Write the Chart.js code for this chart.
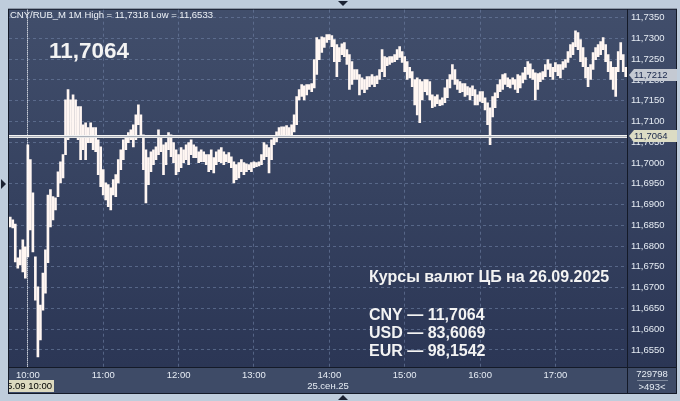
<!DOCTYPE html>
<html lang="ru">

<head>
    <meta charset="UTF-8">
    <title>CNY/RUB_M 1M</title>
    <style>
        html, body { margin: 0; padding: 0; background: #bfcddc; }
        #rateCanvas { display: block; }
    </style>
</head>

<body>
    <canvas id="rateCanvas" width="680" height="401"></canvas>

    <script src="https://cdn.jsdelivr.net/npm/chart.js@4.4.1/dist/chart.umd.min.js" charset="UTF-8"></script>
    <script>
        // bars are 2-minute ranges, time counted in minutes from 10:00
        const firstBar = -14;
        const barStep = 2;

        const highs = [
            11.6870, 11.6863, 11.6853, 11.6772, 11.6791, 11.6815, 11.6798, 11.7044, 11.7008, 11.6928,
            11.6774, 11.6702, 11.6658, 11.6735, 11.6791, 11.6923, 11.6936, 11.6919, 11.6916, 11.6979,
            11.7003, 11.7020, 11.7152, 11.7177, 11.7152, 11.7164, 11.7152, 11.7136, 11.7136, 11.7092,
            11.7097, 11.7085, 11.7097, 11.7085, 11.7085, 11.7056, 11.7039, 11.6984, 11.6952, 11.6948,
            11.6940, 11.6960, 11.6972, 11.7008, 11.7032, 11.7056, 11.7063, 11.7073, 11.7080, 11.7092,
            11.7116, 11.7140, 11.7116, 11.7068, 11.7032, 11.7013, 11.7027, 11.7032, 11.7039, 11.7080,
            11.7063, 11.7044, 11.7049, 11.7073, 11.7068, 11.7049, 11.7032, 11.7020, 11.7037, 11.7032,
            11.7044, 11.7049, 11.7056, 11.7044, 11.7039, 11.7027, 11.7032, 11.7027, 11.7020, 11.7020,
            11.7032, 11.7013, 11.7027, 11.7032, 11.7037, 11.7027, 11.7020, 11.7025, 11.7015, 11.7003,
            11.6996, 11.7001, 11.7008, 11.7001, 11.6998, 11.6996, 11.7001, 11.7003, 11.7001, 11.7003,
            11.7020, 11.7049, 11.7044, 11.7037, 11.7056, 11.7066, 11.7075, 11.7085, 11.7087, 11.7087,
            11.7090, 11.7085, 11.7092, 11.7116, 11.7160, 11.7177, 11.7189, 11.7186, 11.7189, 11.7189,
            11.7191, 11.7249, 11.7302, 11.7297, 11.7304, 11.7302, 11.7309, 11.7309, 11.7307, 11.7297,
            11.7285, 11.7278, 11.7287, 11.7290, 11.7273, 11.7261, 11.7244, 11.7225, 11.7225, 11.7213,
            11.7205, 11.7201, 11.7208, 11.7208, 11.7213, 11.7208, 11.7210, 11.7225, 11.7273, 11.7256,
            11.7254, 11.7256, 11.7256, 11.7261, 11.7273, 11.7280, 11.7268, 11.7256, 11.7244, 11.7230,
            11.7220, 11.7201, 11.7205, 11.7201, 11.7196, 11.7201, 11.7201, 11.7196, 11.7164, 11.7160,
            11.7164, 11.7152, 11.7157, 11.7181, 11.7201, 11.7213, 11.7237, 11.7225, 11.7201, 11.7196,
            11.7191, 11.7191, 11.7184, 11.7181, 11.7186, 11.7177, 11.7164, 11.7172, 11.7172, 11.7157,
            11.7145, 11.7133, 11.7160, 11.7169, 11.7189, 11.7201, 11.7213, 11.7215, 11.7205, 11.7201,
            11.7205, 11.7201, 11.7213, 11.7210, 11.7217, 11.7230, 11.7244, 11.7239, 11.7225, 11.7217,
            11.7215, 11.7217, 11.7220, 11.7237, 11.7249, 11.7239, 11.7230, 11.7242, 11.7237, 11.7237,
            11.7244, 11.7249, 11.7268, 11.7285, 11.7290, 11.7318, 11.7314, 11.7297, 11.7278, 11.7254,
            11.7230, 11.7237, 11.7266, 11.7278, 11.7285, 11.7292, 11.7302, 11.7285, 11.7261, 11.7244,
            11.7230, 11.7230, 11.7268, 11.7290, 11.7261, 11.7230
        ];

        const lows = [
            11.6846, 11.6844, 11.6762, 11.6747, 11.6755, 11.6738, 11.6723, 11.6774, 11.6839, 11.6786,
            11.6670, 11.6533, 11.6574, 11.6646, 11.6687, 11.6760, 11.6846, 11.6863, 11.6887, 11.6919,
            11.6952, 11.6964, 11.7020, 11.7056, 11.7063, 11.7063, 11.7068, 11.7056, 11.7008, 11.7032,
            11.7008, 11.7049, 11.7049, 11.7032, 11.7027, 11.6972, 11.6943, 11.6923, 11.6911, 11.6895,
            11.6887, 11.6923, 11.6919, 11.6952, 11.6984, 11.7008, 11.7032, 11.7049, 11.7056, 11.7039,
            11.7056, 11.7092, 11.7068, 11.6984, 11.6904, 11.6948, 11.6979, 11.6996, 11.7008, 11.7020,
            11.7027, 11.6972, 11.6996, 11.7032, 11.7015, 11.7001, 11.6972, 11.6979, 11.6989, 11.7001,
            11.7008, 11.6996, 11.7020, 11.7013, 11.7013, 11.7001, 11.7003, 11.7003, 11.6996, 11.6979,
            11.6984, 11.6976, 11.6996, 11.7003, 11.7001, 11.6996, 11.7003, 11.7001, 11.6989, 11.6952,
            11.6960, 11.6964, 11.6979, 11.6972, 11.6979, 11.6984, 11.6979, 11.6989, 11.6991, 11.6993,
            11.6996, 11.7008, 11.7015, 11.6976, 11.7008, 11.7044, 11.7051, 11.7063, 11.7061, 11.7068,
            11.7064, 11.7063, 11.7068, 11.7075, 11.7092, 11.7152, 11.7160, 11.7152, 11.7164, 11.7177,
            11.7172, 11.7181, 11.7213, 11.7249, 11.7266, 11.7278, 11.7290, 11.7297, 11.7280, 11.7244,
            11.7208, 11.7244, 11.7261, 11.7256, 11.7237, 11.7177, 11.7189, 11.7201, 11.7201, 11.7164,
            11.7177, 11.7169, 11.7177, 11.7184, 11.7189, 11.7184, 11.7191, 11.7201, 11.7220, 11.7208,
            11.7234, 11.7237, 11.7242, 11.7244, 11.7249, 11.7254, 11.7242, 11.7220, 11.7201, 11.7205,
            11.7184, 11.7140, 11.7116, 11.7097, 11.7152, 11.7172, 11.7164, 11.7152, 11.7133, 11.7136,
            11.7143, 11.7138, 11.7140, 11.7145, 11.7157, 11.7181, 11.7201, 11.7189, 11.7177, 11.7169,
            11.7172, 11.7160, 11.7164, 11.7152, 11.7162, 11.7140, 11.7140, 11.7148, 11.7145, 11.7128,
            11.7092, 11.7044, 11.7111, 11.7133, 11.7157, 11.7172, 11.7177, 11.7189, 11.7184, 11.7181,
            11.7189, 11.7177, 11.7169, 11.7181, 11.7193, 11.7201, 11.7213, 11.7205, 11.7201, 11.7152,
            11.7177, 11.7196, 11.7201, 11.7208, 11.7225, 11.7208, 11.7201, 11.7220, 11.7210, 11.7205,
            11.7225, 11.7230, 11.7242, 11.7254, 11.7261, 11.7280, 11.7273, 11.7244, 11.7232, 11.7205,
            11.7184, 11.7201, 11.7225, 11.7249, 11.7256, 11.7261, 11.7273, 11.7244, 11.7220, 11.7201,
            11.7177, 11.7160, 11.7220, 11.7249, 11.7220, 11.7208
        ];

        const hourTicks = [0, 60, 120, 180, 240, 300, 360, 420];
        const hourLabels = ['10:00', '11:00', '12:00', '13:00', '14:00', '15:00', '16:00', '17:00'];
        const priceTicks = [11.655, 11.660, 11.665, 11.670, 11.675, 11.680, 11.685, 11.690, 11.695,
            11.700, 11.705, 11.710, 11.715, 11.720, 11.725, 11.730, 11.735];

        const lastPrice = 11.7212;
        const cbRate = 11.7064;
        const cbLines = ['CNY — 11,7064', 'USD — 83,6069', 'EUR — 98,1542'];

        const fmt = v => v.toFixed(4).replace('.', ',');
        const lightText = '#e6ecf4';
        const gridColor = 'rgba(112, 130, 165, 0.6)';

        function tag(ctx, y, text, fill) {
            ctx.fillStyle = fill;
            ctx.beginPath();
            ctx.moveTo(629, y);
            ctx.lineTo(634, y - 6);
            ctx.lineTo(677, y - 6);
            ctx.lineTo(677, y + 6);
            ctx.lineTo(634, y + 6);
            ctx.closePath();
            ctx.fill();
            ctx.fillStyle = '#18264a';
            ctx.font = '9.5px "Liberation Sans"';
            ctx.textAlign = 'left';
            ctx.textBaseline = 'middle';
            ctx.fillText(text, 634, y + 0.5);
        }

        function tri(ctx, pts) {
            ctx.beginPath();
            ctx.moveTo(pts[0], pts[1]);
            ctx.lineTo(pts[2], pts[3]);
            ctx.lineTo(pts[4], pts[5]);
            ctx.closePath();
            ctx.fill();
        }

        const terminalLook = {
            id: 'terminalLook',
            beforeDraw(chart) {
                const ctx = chart.ctx;
                const a = chart.chartArea;
                ctx.save();
                ctx.fillStyle = '#bfcddc';
                ctx.fillRect(0, 0, chart.width, chart.height);
                ctx.fillStyle = '#141a28';
                ctx.fillRect(a.left - 1, a.top - 1, 677 - a.left + 1, 394 - a.top + 1);

                let g = ctx.createLinearGradient(0, a.top, 0, a.bottom);
                g.addColorStop(0, '#414e6b');
                g.addColorStop(1, '#2b3655');
                ctx.fillStyle = g;
                ctx.fillRect(a.left, a.top, a.right - a.left, a.bottom - a.top);
                ctx.fillRect(a.right + 1, a.top, 676 - a.right - 1, a.bottom - a.top);

                ctx.fillStyle = '#3e4b67';
                ctx.fillRect(a.left, a.bottom + 1, a.right - a.left, 393 - a.bottom - 1);
                ctx.fillRect(a.right + 1, a.bottom + 1, 676 - a.right - 1, 393 - a.bottom - 1);

                ctx.fillStyle = '#1b2232';
                tri(ctx, [338, 1, 348, 1, 343, 6]);
                tri(ctx, [338, 400, 348, 400, 343, 395]);
                tri(ctx, [1, 179, 1, 189, 6, 184]);
                ctx.restore();
            },
            afterDatasetsDraw(chart) {
                const ctx = chart.ctx;
                const a = chart.chartArea;
                const x = chart.scales.x;
                const y = chart.scales.y;
                ctx.save();
                // crosshair at 10:00
                const cx = Math.round(x.getPixelForValue(0)) - 0.5;
                ctx.strokeStyle = '#ffffff';
                ctx.setLineDash([1, 1]);
                ctx.lineWidth = 1;
                ctx.beginPath();
                ctx.moveTo(cx, a.top);
                ctx.lineTo(cx, a.bottom);
                ctx.stroke();
                ctx.setLineDash([]);

                // CB rate line
                const ry = Math.round(y.getPixelForValue(cbRate));
                ctx.fillStyle = '#f4f4f4';
                ctx.fillRect(a.left, ry - 1, a.right - a.left, 1);
                ctx.fillStyle = '#a9aeb8';
                ctx.fillRect(a.left, ry, a.right - a.left, 1);
                ctx.fillStyle = '#e8e8e8';
                ctx.fillRect(a.left, ry + 1, a.right - a.left, 1);
                ctx.restore();
            },
            afterDraw(chart) {
                const ctx = chart.ctx;
                const a = chart.chartArea;
                const y = chart.scales.y;
                ctx.save();
                ctx.fillStyle = '#141a28';
                ctx.fillRect(a.right, a.top, 1, 393 - a.top);
                ctx.fillRect(a.left, a.bottom, 677 - a.left, 1);

                ctx.textAlign = 'left';
                ctx.textBaseline = 'alphabetic';
                ctx.fillStyle = '#eef2f7';
                ctx.font = '9.5px "Liberation Sans"';
                ctx.fillText('CNY/RUB_M 1M High = 11,7318 Low = 11,6533', 10, 18);

                ctx.fillStyle = '#f3f3f3';
                ctx.font = 'bold 22.5px "Liberation Sans"';
                ctx.fillText(fmt(cbRate), 49, 58);

                ctx.font = 'bold 16px "Liberation Sans"';
                ctx.fillText('Курсы валют ЦБ на 26.09.2025', 369, 282);
                cbLines.forEach((t, i) => ctx.fillText(t, 369, 320 + i * 18));

                tag(ctx, Math.round(y.getPixelForValue(lastPrice)), fmt(lastPrice), '#c4c9d2');
                tag(ctx, Math.round(y.getPixelForValue(cbRate)), fmt(cbRate), '#dcdcc4');

                // date row
                ctx.font = '9.5px "Liberation Sans"';
                ctx.fillStyle = lightText;
                ctx.textAlign = 'center';
                ctx.textBaseline = 'middle';
                ctx.fillText('25.сен.25', 328, 386);

                // crosshair time tag
                ctx.fillStyle = '#dcd9bf';
                ctx.fillRect(a.left, 380, 45, 12);
                ctx.beginPath();
                ctx.rect(a.left, 380, 45, 12);
                ctx.clip();
                ctx.fillStyle = '#000';
                ctx.textAlign = 'right';
                ctx.fillText('25.09 10:00', 52, 386.5);
                ctx.restore();

                ctx.save();
                ctx.font = '9.5px "Liberation Sans"';
                ctx.fillStyle = lightText;
                ctx.textAlign = 'center';
                ctx.textBaseline = 'middle';
                ctx.fillText('729798', 652, 374);
                ctx.fillText('>493<', 652, 387);
                ctx.fillStyle = '#7d889c';
                ctx.fillRect(637, 380, 31, 1);
                ctx.restore();
            }
        };

        const ctx = document.getElementById('rateCanvas').getContext('2d');
        const rateChart = new Chart(ctx, {
            type: 'bar',
            data: {
                datasets: [{
                    label: 'CNY/RUB_M',
                    data: highs.map((h, i) => ({ x: firstBar + i * barStep, y: [lows[i], h] })),
                    backgroundColor: '#fff6f2',
                    borderWidth: 0,
                    barThickness: 2,
                    grouped: false
                }]
            },
            options: {
                responsive: false,
                animation: false,
                devicePixelRatio: 1,
                layout: { padding: { left: 9, top: 9, right: 4, bottom: 8 } },
                plugins: { legend: { display: false }, tooltip: { enabled: false } },
                scales: {
                    x: {
                        type: 'linear',
                        min: -15,
                        max: 477,
                        offset: false,
                        grid: { color: gridColor, drawTicks: false, offset: false },
                        border: { display: false, dash: [3, 3] },
                        ticks: {
                            color: lightText,
                            font: { family: 'Liberation Sans', size: 9.5 },
                            padding: 3,
                            maxRotation: 0,
                            autoSkip: false,
                            callback: v => hourLabels[hourTicks.indexOf(v)]
                        },
                        afterBuildTicks: s => { s.ticks = hourTicks.map(v => ({ value: v })); },
                        afterFit: s => { s.height = 26; }
                    },
                    y: {
                        position: 'right',
                        min: 11.6509,
                        max: 11.7369,
                        grid: { color: gridColor, drawTicks: false },
                        border: { display: false, dash: [3, 3] },
                        ticks: {
                            color: lightText,
                            font: { family: 'Liberation Sans', size: 9.5 },
                            padding: 4,
                            callback: v => fmt(v)
                        },
                        afterBuildTicks: s => { s.ticks = priceTicks.map(v => ({ value: v })); },
                        afterFit: s => { s.width = 49; }
                    }
                }
            },
            plugins: [terminalLook]
        });
    </script>
</body>

</html>
